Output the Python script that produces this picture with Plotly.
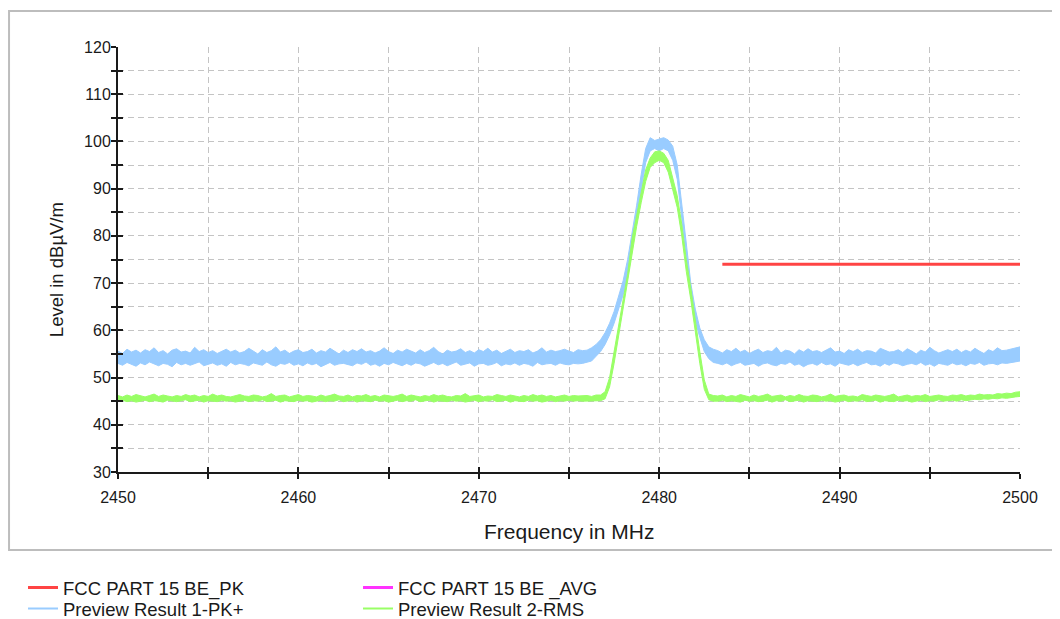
import plotly.graph_objects as go

# ---------------- data ----------------
FREQ_START = 2450.0
FREQ_STEP = 0.25
N_POINTS = 201
freq = [FREQ_START + i * FREQ_STEP for i in range(N_POINTS)]

# Preview Result 1-PK+  (upper / lower edge of the trace band), 2450.00 .. 2475.75
pk_hi_left = [
    55.6, 55.1, 56.0, 55.4, 55.8, 55.2, 55.9, 55.5, 56.3, 55.3,
    55.7, 55.0, 55.8, 56.1, 55.4, 55.6, 55.2, 56.4, 55.5, 55.9,
    55.3, 55.7, 55.1, 55.6, 56.0, 55.4, 55.8, 55.2, 55.5, 56.2,
    55.6, 55.0, 55.9, 55.3, 55.7, 56.5, 55.4, 55.8, 55.1, 55.6,
    55.9, 55.3, 55.5, 56.0, 55.2, 55.7, 55.4, 56.2, 55.6, 55.0,
    55.8, 55.3, 55.9, 55.5, 56.1, 55.4, 55.7, 55.2, 55.6, 56.3,
    55.5, 55.1, 55.8, 55.4, 56.0, 55.6, 55.2, 55.9, 55.3, 55.7,
    56.4, 55.5, 55.0, 55.8, 55.4, 55.6, 56.1, 55.3, 55.7, 55.2,
    55.9, 55.5, 56.2, 55.4, 55.8, 55.1, 55.6, 56.0, 55.3, 55.7,
    55.5, 55.9, 55.2, 55.6, 56.3, 55.4, 55.8, 55.5, 55.7, 56.0,
    55.6, 55.3, 55.9, 55.7,
]
pk_lo_left = [
    53.0, 52.6, 53.2, 52.8, 52.4, 53.1, 52.7, 53.3, 52.9, 52.5,
    53.0, 52.8, 52.3, 53.2, 52.7, 53.0, 52.6, 52.9, 53.3, 52.5,
    52.8, 53.1, 52.6, 52.9, 52.4, 53.2, 52.7, 53.0, 52.8, 52.5,
    53.1, 52.9, 52.6, 53.3, 52.7, 52.4, 53.0, 52.8, 53.2, 52.6,
    52.9, 52.5, 53.1, 52.7, 53.0, 52.3, 52.8, 53.2, 52.6, 52.9,
    53.0, 52.7, 52.5, 53.1, 52.8, 53.3, 52.6, 52.9, 52.4, 53.0,
    52.7, 53.2, 52.8, 52.5, 53.0, 52.6, 53.1, 52.9, 52.4, 52.8,
    53.2, 52.7, 53.0, 52.5, 52.9, 53.3, 52.6, 52.8, 53.1, 52.4,
    52.9, 53.0, 52.6, 52.8, 53.2, 52.5, 52.9, 52.7, 53.1, 52.6,
    53.0, 52.8, 52.4, 53.2, 52.7, 52.9, 53.0, 52.6, 53.1, 52.8,
    52.7, 53.0, 52.9, 53.0,
]
# 2476.00 .. 2483.00
pk_hi_peak = [
    55.8, 56.3, 57.0, 58.0, 59.5, 61.5, 64.0, 67.0, 70.5, 75.0,
    80.5, 86.5, 93.0, 98.5, 100.8, 100.2, 100.5, 100.8, 100.3, 99.0,
    95.0, 86.0, 78.5, 70.0, 64.5, 60.5, 58.0, 56.5, 56.0,
]
pk_lo_peak = [
    53.2, 53.5, 54.5, 55.5, 57.0, 59.0, 61.5, 64.5, 67.5, 71.5,
    77.0, 83.0, 89.5, 95.5, 98.0, 98.5, 98.0, 98.5, 98.0, 96.0,
    92.0, 83.0, 75.5, 67.5, 62.0, 58.5, 55.5, 54.0, 53.2,
]
# 2483.25 .. 2500.00
pk_hi_right = [
    55.7, 55.2, 55.9, 55.5, 56.2, 55.4, 55.8, 55.1, 55.6, 56.0,
    55.3, 55.7, 55.5, 56.4, 55.2, 55.8, 55.6, 55.0, 55.9, 55.4,
    56.1, 55.5, 55.7, 55.3, 55.8, 56.3, 55.4, 55.6, 55.1, 55.9,
    55.5, 56.0, 55.3, 55.7, 55.6, 55.2, 56.2, 55.8, 55.4, 55.5,
    55.9, 55.3, 56.1, 55.6, 55.0, 55.8, 55.4, 56.4, 55.7, 55.2,
    55.6, 55.9, 55.5, 56.0, 55.3, 55.8, 55.4, 56.2, 55.6, 55.1,
    55.9, 55.5, 56.3, 55.7, 55.8, 56.0, 56.2, 56.5,
]
pk_lo_right = [
    53.0, 52.7, 53.1, 52.5, 52.9, 53.2, 52.6, 52.8, 53.0, 52.4,
    52.9, 53.1, 52.7, 52.5, 53.0, 52.8, 53.3, 52.6, 52.9, 52.3,
    52.8, 53.0, 52.6, 53.2, 52.7, 52.9, 52.4, 53.1, 52.8, 52.6,
    53.0, 52.5, 52.9, 53.2, 52.7, 52.8, 52.4, 53.0, 52.6, 53.1,
    52.9, 52.5, 52.8, 53.0, 52.7, 53.2, 52.6, 52.9, 52.4, 53.0,
    52.8, 52.6, 53.1, 52.7, 52.9, 52.5, 53.0, 52.8, 53.2, 52.6,
    52.9, 53.0, 52.7, 53.1, 53.0, 53.2, 53.3, 53.5,
]

# Preview Result 2-RMS (upper / lower edge of the trace band)
rms_hi_left = [
    46.2, 45.9, 46.3, 46.0, 46.4, 46.1, 45.9, 46.2, 46.5, 46.0,
    46.3, 46.1, 45.9, 46.2, 46.0, 46.4, 46.1, 46.3, 45.9, 46.2,
    46.0, 46.5, 46.1, 46.3, 46.0, 45.9, 46.2, 46.4, 46.1, 46.0,
    46.3, 46.2, 45.9, 46.1, 46.6, 46.0, 46.2, 46.3, 45.9, 46.1,
    46.4, 46.0, 46.2, 46.1, 45.9, 46.3, 46.0, 46.2, 46.5, 46.1,
    46.0, 46.3, 45.9, 46.2, 46.1, 46.4, 46.0, 46.2, 45.9, 46.3,
    46.1, 46.0, 46.2, 46.5, 46.0, 46.3, 46.1, 45.9, 46.2, 46.0,
    46.4, 46.1, 46.3, 46.0, 45.9, 46.2, 46.1, 46.6, 46.0, 46.2,
    46.3, 45.9, 46.1, 46.0, 46.4, 46.2, 46.0, 46.3, 46.1, 45.9,
    46.2, 46.0, 46.4, 46.1, 46.3, 46.0, 46.2, 45.9, 46.1, 46.3,
    46.0, 46.2, 46.1, 46.2,
]
rms_lo_left = [
    45.0, 45.2, 44.9, 45.1, 44.8, 45.0, 45.2, 44.9, 45.1, 45.0,
    44.8, 45.2, 45.0, 44.9, 45.1, 45.3, 44.9, 45.0, 45.2, 44.8,
    45.1, 45.0, 44.9, 45.2, 45.0, 45.1, 44.8, 45.0, 45.2, 44.9,
    45.1, 45.0, 45.3, 44.9, 45.0, 45.2, 44.8, 45.1, 45.0, 44.9,
    45.2, 45.0, 45.1, 44.8, 45.0, 45.2, 44.9, 45.1, 45.0, 45.3,
    44.9, 45.0, 45.2, 44.8, 45.1, 45.0, 44.9, 45.2, 45.0, 45.1,
    44.8, 45.0, 45.2, 44.9, 45.1, 45.0, 45.3, 44.9, 45.0, 45.2,
    44.8, 45.1, 45.0, 44.9, 45.2, 45.0, 45.1, 44.8, 45.0, 45.2,
    44.9, 45.1, 45.0, 45.3, 44.9, 45.0, 45.2, 44.8, 45.1, 45.0,
    44.9, 45.2, 45.0, 45.1, 44.8, 45.0, 45.2, 44.9, 45.1, 45.0,
    45.2, 45.0, 45.1, 45.0,
]
rms_hi_peak = [
    46.2, 46.0, 46.3, 46.3, 47.0, 50.0, 55.5, 61.5, 66.5, 72.0,
    79.5, 84.5, 89.5, 94.0, 96.5, 97.8, 98.0, 97.5, 96.0, 92.0,
    88.5, 82.5, 75.0, 69.0, 62.0, 55.5, 49.5, 46.5, 46.2,
]
rms_lo_peak = [
    45.0, 45.1, 45.0, 45.1, 45.5, 48.0, 53.0, 59.0, 64.0, 70.0,
    77.0, 82.0, 87.0, 91.5, 94.5, 95.5, 96.0, 95.5, 93.5, 89.5,
    86.0, 80.0, 72.5, 66.5, 59.5, 53.0, 47.5, 45.3, 45.0,
]
rms_hi_right = [
    46.1, 46.3, 45.9, 46.2, 46.0, 46.4, 46.1, 45.9, 46.3, 46.0,
    46.2, 46.5, 46.0, 46.1, 46.3, 45.9, 46.2, 46.0, 46.4, 46.1,
    46.0, 46.3, 46.2, 45.9, 46.1, 46.5, 46.0, 46.2, 46.3, 46.0,
    46.1, 45.9, 46.4, 46.2, 46.0, 46.3, 46.1, 46.0, 46.2, 46.5,
    45.9, 46.1, 46.3, 46.0, 46.2, 46.1, 46.4, 46.0, 46.2, 46.3,
    46.1, 46.0, 46.3, 46.2, 46.4, 46.1, 46.3, 46.2, 46.5, 46.3,
    46.4, 46.3, 46.6, 46.5, 46.7, 46.6, 46.9, 47.0,
]
rms_lo_right = [
    45.0, 45.2, 44.9, 45.1, 45.0, 44.8, 45.2, 45.0, 45.1, 44.9,
    45.0, 45.2, 44.8, 45.1, 45.0, 45.3, 44.9, 45.0, 45.2, 44.8,
    45.1, 45.0, 44.9, 45.2, 45.0, 45.1, 44.8, 45.0, 45.2, 44.9,
    45.1, 45.0, 45.3, 44.9, 45.0, 45.2, 44.8, 45.1, 45.0, 44.9,
    45.2, 45.0, 45.1, 44.8, 45.0, 45.2, 44.9, 45.1, 45.0, 45.3,
    45.0, 45.1, 45.2, 45.0, 45.3, 45.1, 45.2, 45.4, 45.3, 45.5,
    45.4, 45.6, 45.5, 45.7, 45.6, 45.8, 45.9, 46.0,
]

# limit lines
limit_freq = [2483.5, 2500.0]
limit_pk = [74.0, 74.0]
limit_avg = [54.0, 54.0]

# axis ticks
x_ticks = [2450, 2455, 2460, 2465, 2470, 2475, 2480, 2485, 2490, 2495, 2500]
x_labels = ["2450", "", "2460", "", "2470", "", "2480", "", "2490", "", "2500"]
y_ticks = [30, 35, 40, 45, 50, 55, 60, 65, 70, 75, 80, 85, 90, 95, 100, 105, 110, 115, 120]
y_labels = ["30", "", "40", "", "50", "", "60", "", "70", "", "80", "", "90", "", "100", "", "110", "", "120"]

pk_hi = pk_hi_left + pk_hi_peak + pk_hi_right
pk_lo = pk_lo_left + pk_lo_peak + pk_lo_right
rms_hi = rms_hi_left + rms_hi_peak + rms_hi_right
rms_lo = rms_lo_left + rms_lo_peak + rms_lo_right
assert len(pk_hi) == len(pk_lo) == len(rms_hi) == len(rms_lo) == N_POINTS

FONT = "Liberation Sans, Arial, sans-serif"
TXT = "#1a1a1a"
RED, MAG, BLUE, GREEN = "#ff4444", "#ff33ff", "#99ccff", "#99ff66"

fig = go.Figure()

# limit AVG (lies under the PK+ band)
fig.add_trace(go.Scatter(x=limit_freq, y=limit_avg, mode="lines", name="FCC PART 15 BE _AVG",
                         line=dict(color=MAG, width=3), showlegend=False))
# PK+ band
fig.add_trace(go.Scatter(x=freq, y=pk_lo, mode="lines", line=dict(color=BLUE, width=1),
                         showlegend=False, hoverinfo="skip"))
fig.add_trace(go.Scatter(x=freq, y=pk_hi, mode="lines", line=dict(color=BLUE, width=1),
                         fill="tonexty", fillcolor=BLUE, name="Preview Result 1-PK+", showlegend=False))
# RMS band
fig.add_trace(go.Scatter(x=freq, y=rms_lo, mode="lines", line=dict(color=GREEN, width=1),
                         showlegend=False, hoverinfo="skip"))
fig.add_trace(go.Scatter(x=freq, y=rms_hi, mode="lines", line=dict(color=GREEN, width=1),
                         fill="tonexty", fillcolor=GREEN, name="Preview Result 2-RMS", showlegend=False))
# limit PK
fig.add_trace(go.Scatter(x=limit_freq, y=limit_pk, mode="lines", name="FCC PART 15 BE_PK",
                         line=dict(color=RED, width=3), showlegend=False))

# legend entries (one legend box per entry so the rows sit exactly as in the original)
legend_items = [
    ("FCC PART 15 BE_PK", RED, 3, "legend"),
    ("FCC PART 15 BE _AVG", MAG, 3, "legend2"),
    ("Preview Result 1-PK+", BLUE, 2, "legend3"),
    ("Preview Result 2-RMS", GREEN, 2, "legend4"),
]
for name, color, w, lg in legend_items:
    fig.add_trace(go.Scatter(x=[None], y=[None], mode="lines", name=name,
                             line=dict(color=color, width=w), legend=lg, hoverinfo="skip"))

# helper trace so the overlay axes (inner half of the crossing ticks) are drawn
fig.add_trace(go.Scatter(x=[None], y=[None], xaxis="x2", yaxis="y2", showlegend=False, hoverinfo="skip"))

grid = dict(showgrid=True, gridcolor="#c4c4c4", gridwidth=1, griddash="6px,4px")


def leg(x, y):
    return dict(x=x, y=y, xanchor="left", yanchor="top", orientation="v",
                font=dict(size=18.5, color=TXT, family=FONT), bgcolor="rgba(0,0,0,0)",
                borderwidth=0, tracegroupgap=0)


fig.update_layout(
    width=1052, height=611,
    margin=dict(l=110, r=40, t=39, b=147, autoexpand=False),
    paper_bgcolor="white", plot_bgcolor="white",
    font=dict(family=FONT, color=TXT),
    xaxis=dict(range=[2450, 2500], tickmode="array", tickvals=x_ticks, ticktext=x_labels,
               ticks="outside", ticklen=5, tickwidth=2, tickcolor=TXT,
               showline=True, linecolor=TXT, linewidth=2, zeroline=False,
               tickfont=dict(size=16, color=TXT), ticklabelstandoff=5, **grid),
    yaxis=dict(range=[30, 120], tickmode="array", tickvals=y_ticks, ticktext=y_labels,
               ticks="outside", ticklen=5, tickwidth=2, tickcolor=TXT,
               showline=True, linecolor=TXT, linewidth=2, zeroline=False,
               tickfont=dict(size=16, color=TXT), ticklabelstandoff=-3, **grid),
    xaxis2=dict(range=[2450, 2500], overlaying="x", anchor="y2", side="bottom",
                tickmode="array", tickvals=x_ticks, showticklabels=False,
                ticks="inside", ticklen=5, tickwidth=2, tickcolor=TXT,
                showgrid=False, showline=False, zeroline=False),
    yaxis2=dict(range=[30, 120], overlaying="y", anchor="x2", side="left",
                tickmode="array", tickvals=y_ticks, showticklabels=False,
                ticks="inside", ticklen=5, tickwidth=2, tickcolor=TXT,
                showgrid=False, showline=False, zeroline=False),
    legend=leg(-0.1053, -0.2282),
    legend2=leg(0.2661, -0.2282),
    legend3=leg(-0.1053, -0.2776),
    legend4=leg(0.2661, -0.2776),
    showlegend=True,
    annotations=[
        dict(text="Frequency in MHz", xref="paper", yref="paper", x=0.5, y=-0.141,
             xanchor="center", yanchor="middle", showarrow=False, font=dict(size=21, color=TXT)),
        dict(text="Level in dBµV/m", xref="paper", yref="paper", x=-0.0687, y=0.475,
             xanchor="center", yanchor="middle", textangle=-90, showarrow=False,
             font=dict(size=18.5, color=TXT)),
    ],
    shapes=[
        dict(type="rect", xref="paper", yref="paper", x0=-0.1208, x1=1.06, y0=-0.1835, y1=1.0847,
             line=dict(color="#bdbdbd", width=2), layer="below"),
    ],
)

fig.write_html("out.html")
